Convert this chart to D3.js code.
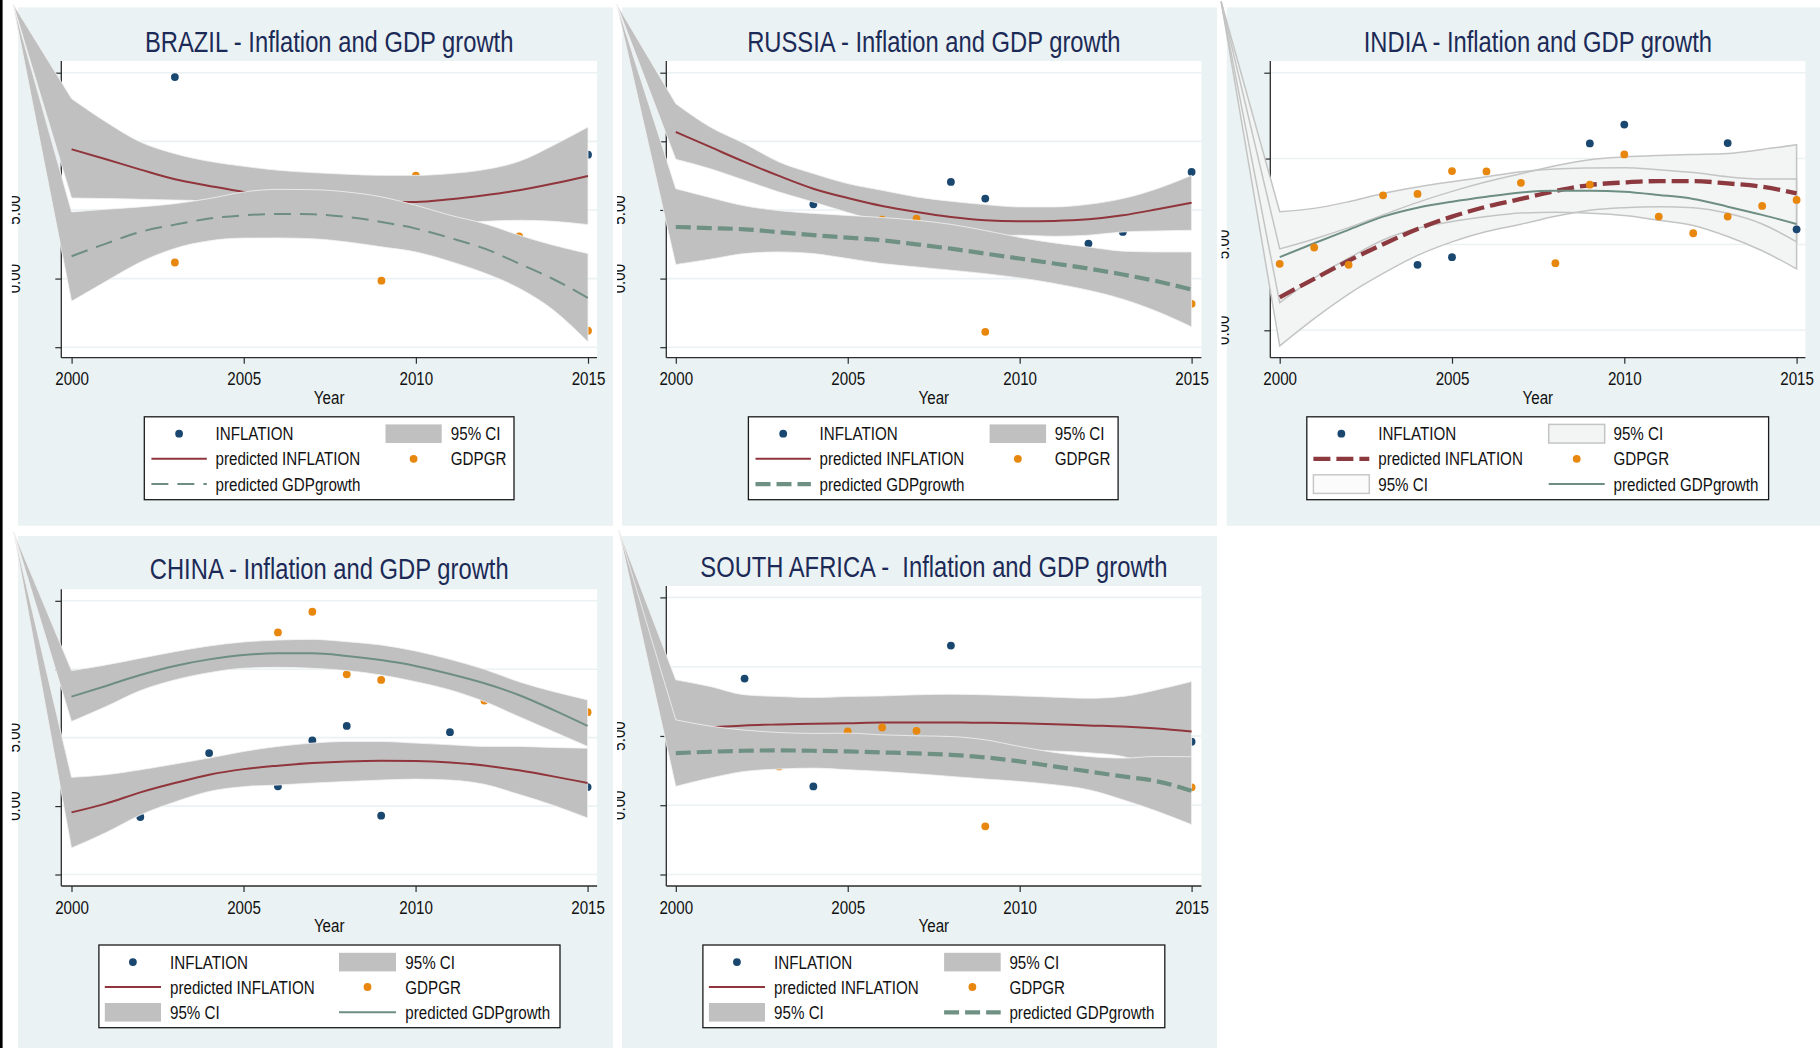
<!DOCTYPE html>
<html><head><meta charset="utf-8">
<script src="https://cdn.jsdelivr.net/npm/d3@7"></script>
<style>
html,body{margin:0;padding:0;background:#fff;}
svg{display:block;}
text{font-family:"Liberation Sans",Arial,Helvetica,sans-serif;}
</style></head><body>
<svg id="chart" width="1820" height="1048"></svg>
<script>
// ---------------- DATA ----------------
const years = [2000,2001,2002,2003,2004,2005,2006,2007,2008,2009,2010,2011,2012,2013,2014,2015];
const xTickValues = [2000,2005,2010,2015];
const yTicks5 = [15,10,5,0,-5];
const yTicks4 = [15,10,5,0];
const yLabelValues = [5,0];
const yLabelText = ["5.00","0.00"];

// BRAZIL
const brInfPts = [[2003,14.68],[2015,9.03]];
const brGdpPts = [[2003,1.17],[2004,5.95],[2009,-0.15],[2010,7.5],[2013,3.08],[2015,-3.8]];
const brInfFit = [9.42,8.69,7.94,7.23,6.75,6.31,6.0,5.78,5.63,5.57,5.58,5.78,6.07,6.43,6.92,7.48];
const brInfHi  = [13.11,11.41,9.95,9.10,8.54,8.18,7.89,7.72,7.60,7.52,7.52,7.65,7.94,8.54,9.71,11.04];
const brInfLo  = [5.87,5.83,5.78,5.72,5.65,5.2,4.6,4.2,3.9,3.8,3.8,4.0,4.17,4.25,4.17,3.93];
const brGdpFit = [1.63,2.55,3.40,3.93,4.37,4.61,4.71,4.68,4.49,4.13,3.64,2.96,2.18,1.09,-0.05,-1.41];
const brGdpHi  = [4.85,5.05,5.22,5.46,5.83,6.31,6.5,6.48,6.31,5.95,5.34,4.61,4.0,3.16,2.43,1.82];
const brGdpLo  = [-1.65,-0.2,1.2,2.2,2.75,2.95,2.96,2.9,2.67,2.31,1.94,1.25,0.4,-0.7,-2.3,-4.61];
const brApex   = [1998.3,20.0];

// RUSSIA
const ruInfPts = [[2004,5.41],[2008,7.04],[2009,5.83],[2012,2.55],[2013,3.40],[2015,7.77]];
const ruGdpPts = [[2006,4.30],[2007,4.37],[2009,-3.88],[2015,-1.84]];
const ruInfFit = [10.68,9.59,8.50,7.48,6.55,5.87,5.29,4.85,4.49,4.25,4.17,4.20,4.32,4.61,5.05,5.53];
const ruInfHi  = [12.74,11.04,9.83,8.50,7.65,6.92,6.43,5.95,5.63,5.39,5.22,5.22,5.41,5.83,6.55,7.52];
const ruInfLo  = [8.69,8.01,7.16,6.31,5.58,4.82,4.15,3.75,3.35,3.11,3.16,3.08,3.16,3.40,3.47,3.52];
const ruGdpFit = [3.76,3.68,3.59,3.38,3.16,2.98,2.79,2.49,2.18,1.82,1.46,1.1,0.73,0.3,-0.2,-0.8];
const ruGdpHi  = [6.55,5.9,5.3,4.95,4.75,4.6,4.45,4.25,3.95,3.5,3.0,2.6,2.3,2.0,1.94,1.94];
const ruGdpLo  = [1.02,1.41,1.82,1.94,1.82,1.46,1.09,0.85,0.61,0.36,0.05,-0.35,-0.85,-1.5,-2.4,-3.52];
const ruApex   = [1998.28,20.0];

// INDIA
const inInfPts = [[2004,3.81],[2005,4.26],[2009,10.88],[2010,11.98],[2013,10.90],[2015,5.88]];
const inGdpPts = [[2000,3.87],[2001,4.82],[2002,3.81],[2003,7.86],[2004,7.94],[2005,9.27],[2006,9.25],[2007,8.59],[2008,3.91],[2009,8.48],[2010,10.24],[2011,6.62],[2012,5.65],[2013,6.62],[2014,7.24],[2015,7.59]];
const inInfFit = [1.92,3.00,4.05,5.01,5.90,6.62,7.20,7.65,8.11,8.46,8.61,8.69,8.69,8.55,8.36,7.97];
const inInfHi  = [4.74,5.32,5.98,6.72,7.45,8.09,8.65,9.12,9.58,9.93,10.09,10.18,10.24,10.30,10.53,10.80];
const inInfLo  = [-0.91,0.68,2.11,3.31,4.36,5.15,5.75,6.18,6.64,6.99,7.14,7.20,7.14,6.81,6.19,5.15];
const inGdpFit = [4.26,5.07,5.85,6.62,7.14,7.49,7.78,8.03,8.13,8.13,8.07,7.88,7.65,7.20,6.72,6.19];
const inGdpHi  = [6.91,7.10,7.49,7.97,8.34,8.65,8.94,9.23,9.39,9.45,9.47,9.35,9.19,8.94,8.81,8.81];
const inGdpLo  = [1.61,3.04,4.20,5.26,5.94,6.33,6.62,6.83,6.87,6.81,6.68,6.41,6.10,5.46,4.63,3.58];
const inApex   = [1998.3,19.15];

// CHINA
const cnInfPts = [[2002,-0.80],[2004,3.87],[2006,1.44],[2007,4.79],[2008,5.86],[2009,-0.70],[2011,5.40],[2015,1.39]];
const cnGdpPts = [[2006,12.69],[2007,14.2],[2008,9.63],[2009,9.22],[2012,7.71],[2015,6.86]];
const cnInfFit = [-0.46,0.18,1.0,1.68,2.29,2.70,2.95,3.14,3.26,3.31,3.29,3.19,2.97,2.61,2.17,1.68];
const cnInfHi  = [2.10,2.29,2.65,3.07,3.51,3.99,4.36,4.60,4.72,4.72,4.60,4.48,4.36,4.36,4.28,4.23];
const cnInfLo  = [-3.06,-1.94,-0.65,0.30,1.07,1.42,1.54,1.68,1.80,1.90,1.97,1.90,1.59,0.86,0.06,-0.87];
const cnGdpFit = [8.0,8.78,9.58,10.24,10.72,11.04,11.16,11.16,10.97,10.67,10.24,9.65,8.97,8.12,7.03,5.86];
const cnGdpHi  = [9.90,10.31,10.80,11.28,11.70,11.99,12.13,12.18,12.01,11.77,11.33,10.72,9.99,9.09,8.37,7.76];
const cnGdpLo  = [6.18,7.27,8.44,9.22,9.75,10.07,10.14,10.07,9.90,9.58,9.09,8.49,7.64,6.54,5.45,4.36];
const cnApex   = [1998.32,20.03];

// SOUTH AFRICA
const saInfPts = [[2002,9.14],[2004,1.36],[2008,11.52],[2015,4.58]];
const saGdpPts = [[2003,2.8],[2005,5.32],[2006,5.61],[2007,5.37],[2009,-1.52],[2015,1.29]];
const saInfFit = [5.49,5.61,5.76,5.83,5.88,5.92,5.97,5.97,5.97,5.95,5.92,5.85,5.76,5.68,5.54,5.32];
const saInfHi  = [9.05,8.57,7.97,7.85,7.77,7.85,7.89,7.97,8.01,7.97,7.89,7.80,7.72,7.85,8.33,8.93];
const saInfLo  = [1.94,2.66,3.55,3.81,3.98,4.00,4.05,3.98,3.93,3.93,3.96,3.91,3.79,3.52,2.75,1.72];
const saGdpFit = [3.76,3.86,3.93,3.96,3.93,3.88,3.81,3.74,3.64,3.45,3.16,2.80,2.44,2.08,1.72,1.05];
const saGdpHi  = [6.16,5.71,5.42,5.25,5.18,5.20,5.08,5.01,4.96,4.72,4.24,3.81,3.52,3.40,3.52,3.50];
const saGdpLo  = [1.36,1.96,2.44,2.61,2.68,2.56,2.44,2.27,2.08,1.89,1.72,1.48,1.12,0.40,-0.44,-1.40];
const saApex   = [1998.34,19.86];

// ---------------- STYLES ----------------
const C = {navy:"#1a476f", orange:"#e8870e", maroon:"#90353b", teal:"#6e8e84",
           bg:"#eaf2f3", grid:"#eaf2f3", title:"#1c2a57", axis:"#2b2b2b"};
const ST = {
  infSolid:{stroke:C.maroon,width:2,dash:null},
  infThickDash:{stroke:"#8c3a3f",width:4.3,dash:"17 6"},
  gdpThinDash:{stroke:C.teal,width:2,dash:"17 9"},
  gdpThickDash:{stroke:"#6f9184",width:4.2,dash:"15 6"},
  gdpSolid:{stroke:C.teal,width:2,dash:null},
  bandGray:{fill:"#c0c0c0",stroke:"#f2f2f2",width:0.8},
  bandLight:{fill:"#f3f5f5",stroke:"#c4c4c4",width:1.5},
  bandWhite:{fill:"#fbfbfb",stroke:"#c8c8c8",width:1.5}
};
const NARROW = 0.82;   // Arial Narrow ≈ 82% of Arial width

// ---------------- PANELS ----------------
const panels = [
 {title:"BRAZIL - Inflation and GDP growth", bg:[18,7.4,613,525.7], plot:[61.3,60.9,597,357.7],
  xr:[71.6,588], ydom:[15,-5], yr:[72.7,347.2], yticks:yTicks5, titleY:52.4, clipX:11.8,
  infPts:brInfPts, gdpPts:brGdpPts, infFit:brInfFit, infHi:brInfHi, infLo:brInfLo,
  gdpFit:brGdpFit, gdpHi:brGdpHi, gdpLo:brGdpLo, apex:brApex,
  infLine:ST.infSolid, gdpLine:ST.gdpThinDash, band:ST.bandGray,
  order:["infPts","gdpPts","infBand","infLine","gdpBand","gdpLine"],
  legend:{box:[144.3,416.8,514,499.7], keys:[[151.4,206.8],[385.5,441.7]], texts:[215.5,450.8], rows:[433.7,458.8,484.1],
   items:[{c:0,r:0,t:"marker",s:C.navy,l:"INFLATION"},{c:1,r:0,t:"rect",s:ST.bandGray,l:"95% CI"},
          {c:0,r:1,t:"line",s:ST.infSolid,l:"predicted INFLATION"},{c:1,r:1,t:"marker",s:C.orange,l:"GDPGR"},
          {c:0,r:2,t:"line",s:ST.gdpThinDash,l:"predicted GDPgrowth"}]}},
 {title:"RUSSIA - Inflation and GDP growth", bg:[622,7.4,1217,525.7], plot:[666.3,60.9,1201.4,357.7],
  xr:[675.8,1191.6], ydom:[15,-5], yr:[72.7,347.2], yticks:yTicks5, titleY:52.4, clipX:617,
  infPts:ruInfPts, gdpPts:ruGdpPts, infFit:ruInfFit, infHi:ruInfHi, infLo:ruInfLo,
  gdpFit:ruGdpFit, gdpHi:ruGdpHi, gdpLo:ruGdpLo, apex:ruApex,
  infLine:ST.infSolid, gdpLine:ST.gdpThickDash, band:ST.bandGray,
  order:["infPts","infBand","infLine","gdpPts","gdpBand","gdpLine"],
  legend:{box:[748.4,416.8,1118.1,499.7], keys:[[755.5,810.9],[989.6,1046.1]], texts:[819.6,1054.8], rows:[433.7,458.8,484.1],
   items:[{c:0,r:0,t:"marker",s:C.navy,l:"INFLATION"},{c:1,r:0,t:"rect",s:ST.bandGray,l:"95% CI"},
          {c:0,r:1,t:"line",s:ST.infSolid,l:"predicted INFLATION"},{c:1,r:1,t:"marker",s:C.orange,l:"GDPGR"},
          {c:0,r:2,t:"line",s:ST.gdpThickDash,l:"predicted GDPgrowth"}]}},
 {title:"INDIA - Inflation and GDP growth", bg:[1226.7,7.4,1820,525.7], plot:[1270.3,61,1805.4,357.7],
  xr:[1279.7,1796.6], ydom:[15,0], yr:[72.7,330.3], yticks:yTicks4, titleY:52.4, clipX:1221.5,
  infPts:inInfPts, gdpPts:inGdpPts, infFit:inInfFit, infHi:inInfHi, infLo:inInfLo,
  gdpFit:inGdpFit, gdpHi:inGdpHi, gdpLo:inGdpLo, apex:inApex,
  infLine:ST.infThickDash, gdpLine:ST.gdpSolid, band:ST.bandLight,
  order:["infBandFill","gdpBandFill","infBandEdge","gdpBandEdge","infLine","gdpLine","infPts","gdpPts"],
  legend:{box:[1306.8,416.8,1768.6,499.7], keys:[[1313.4,1369.3],[1548.7,1604.7]], texts:[1378.2,1613.5], rows:[433.7,458.8,484.1],
   items:[{c:0,r:0,t:"marker",s:C.navy,l:"INFLATION"},{c:1,r:0,t:"rect",s:ST.bandLight,l:"95% CI"},
          {c:0,r:1,t:"line",s:ST.infThickDash,l:"predicted INFLATION"},{c:1,r:1,t:"marker",s:C.orange,l:"GDPGR"},
          {c:0,r:2,t:"rect",s:ST.bandWhite,l:"95% CI"},{c:1,r:2,t:"line",s:ST.gdpSolid,l:"predicted GDPgrowth"}]}},
 {title:"CHINA - Inflation and GDP growth", bg:[18,536,613,1048], plot:[61.3,589.3,597.1,886],
  xr:[71.5,587.6], ydom:[15,-5], yr:[600.8,874.5], yticks:yTicks5, titleY:579, clipX:11.8,
  infPts:cnInfPts, gdpPts:cnGdpPts, infFit:cnInfFit, infHi:cnInfHi, infLo:cnInfLo,
  gdpFit:cnGdpFit, gdpHi:cnGdpHi, gdpLo:cnGdpLo, apex:cnApex,
  infLine:ST.infSolid, gdpLine:ST.gdpSolid, band:ST.bandGray,
  order:["infPts","infBand","infLine","gdpPts","gdpBand","gdpLine"],
  legend:{box:[98.9,945,560,1027.7], keys:[[104.8,161],[339,396]], texts:[170,405.3], rows:[962.1,987,1012.3],
   items:[{c:0,r:0,t:"marker",s:C.navy,l:"INFLATION"},{c:1,r:0,t:"rect",s:ST.bandGray,l:"95% CI"},
          {c:0,r:1,t:"line",s:ST.infSolid,l:"predicted INFLATION"},{c:1,r:1,t:"marker",s:C.orange,l:"GDPGR"},
          {c:0,r:2,t:"rect",s:ST.bandGray,l:"95% CI"},{c:1,r:2,t:"line",s:ST.gdpSolid,l:"predicted GDPgrowth"}]}},
 {title:"SOUTH AFRICA -  Inflation and GDP growth", bg:[622,536,1217,1048], plot:[666.3,586,1201.4,886],
  xr:[675.8,1191.6], ydom:[15,-5], yr:[597.4,874.5], yticks:yTicks5, titleY:577, clipX:617,
  infPts:saInfPts, gdpPts:saGdpPts, infFit:saInfFit, infHi:saInfHi, infLo:saInfLo,
  gdpFit:saGdpFit, gdpHi:saGdpHi, gdpLo:saGdpLo, apex:saApex,
  infLine:ST.infSolid, gdpLine:ST.gdpThickDash, band:ST.bandGray,
  order:["infPts","infBand","infLine","gdpPts","gdpBand","gdpLine"],
  legend:{box:[702.9,945,1164.8,1027.7], keys:[[708.9,765],[944.1,1000.7]], texts:[774.1,1009.4], rows:[962.1,987,1012.3],
   items:[{c:0,r:0,t:"marker",s:C.navy,l:"INFLATION"},{c:1,r:0,t:"rect",s:ST.bandGray,l:"95% CI"},
          {c:0,r:1,t:"line",s:ST.infSolid,l:"predicted INFLATION"},{c:1,r:1,t:"marker",s:C.orange,l:"GDPGR"},
          {c:0,r:2,t:"rect",s:ST.bandGray,l:"95% CI"},{c:1,r:2,t:"line",s:ST.gdpThickDash,l:"predicted GDPgrowth"}]}}
];

// ---------------- DRAW ----------------
const svg = d3.select("#chart");
svg.append("rect").attr("width",1820).attr("height",1048).attr("fill","#fff");
const defs = svg.append("defs");
const FS = 18.5, R = 3.9;

function styleLine(sel, s){
  sel.attr("fill","none").attr("stroke",s.stroke).attr("stroke-width",s.width);
  if(s.dash) sel.attr("stroke-dasharray",s.dash);
  return sel;
}
// narrow text helper (horizontally condensed Arial-metric font)
function ntext(parent, x, y, size, str, anchor, color, extra){
  return parent.append("text")
    .attr("transform",`translate(${x},${y})${extra||""} scale(${NARROW},1)`)
    .attr("text-anchor",anchor||"start").attr("font-size",size).attr("fill",color||"#111")
    .style("white-space","pre").text(str);
}

panels.forEach((p,pi)=>{
  const g = svg.append("g");
  const [bx1,by1,bx2,by2] = p.bg, [px1,py1,px2,py2] = p.plot;
  g.append("rect").attr("x",bx1).attr("y",by1).attr("width",bx2-bx1).attr("height",by2-by1).attr("fill",C.bg);
  g.append("rect").attr("x",px1).attr("y",py1).attr("width",px2-px1).attr("height",py2-py1).attr("fill","#fff");

  const x = d3.scaleLinear().domain([2000,2015]).range(p.xr);
  const y = d3.scaleLinear().domain(p.ydom).range(p.yr);

  // title
  ntext(g,(px1+px2)/2,p.titleY,29,p.title,"middle",C.title);

  // gridlines
  g.append("g").selectAll("line").data(p.yticks).join("line")
   .attr("x1",px1).attr("x2",px2).attr("y1",d=>y(d)).attr("y2",d=>y(d))
   .attr("stroke",C.grid).attr("stroke-width",1.6);

  // y axis ticks
  const ya = g.append("g").attr("transform",`translate(${px1},0)`)
   .call(d3.axisLeft(y).tickValues(p.yticks).tickSize(6).tickSizeOuter(0).tickFormat(""));
  ya.select(".domain").remove();
  ya.selectAll("line").attr("stroke",C.axis).attr("stroke-width",1.2);

  // rotated y labels (clipped at the cell edge)
  const cid = "clipY"+pi;
  defs.append("clipPath").attr("id",cid).append("rect")
   .attr("x",p.clipX).attr("y",py1-20).attr("width",px1-p.clipX).attr("height",py2-py1+40);
  const yl = g.append("g").attr("clip-path",`url(#${cid})`);
  yLabelValues.forEach((v,i)=>ntext(yl,px1-41,y(v),FS,yLabelText[i],"middle","#111"," rotate(-90)"));

  // x axis
  const xa = g.append("g").attr("transform",`translate(0,${py2})`)
   .call(d3.axisBottom(x).tickValues(xTickValues).tickSize(6).tickSizeOuter(0).tickFormat(d3.format("d")));
  xa.select(".domain").remove();
  xa.selectAll("line").attr("stroke",C.axis).attr("stroke-width",1.2);
  xa.selectAll("text").attr("y",0).attr("dy",null).attr("transform",`translate(0,27.7) scale(${NARROW},1)`)
   .attr("font-size",FS).attr("fill","#111").attr("font-family",null)
   .style("font-family",'"Liberation Sans",Arial,sans-serif');
  ntext(g,(px1+px2)/2,py2+46.3,FS,"Year","middle","#111");

  // axis lines
  g.append("line").attr("x1",px1).attr("x2",px1).attr("y1",py1).attr("y2",py2).attr("stroke",C.axis).attr("stroke-width",1.3);
  g.append("line").attr("x1",px1).attr("x2",px2).attr("y1",py2).attr("y2",py2).attr("stroke",C.axis).attr("stroke-width",1.3);

  // data layers
  const bandPath = (lo,hi)=>{
    const area = d3.area().x(d=>x(d)).y0((d,i)=>y(lo[i])).y1((d,i)=>y(hi[i])).curve(d3.curveMonotoneX);
    return `M${x(p.apex[0])},${y(p.apex[1])}L` + area(years).slice(1);
  };
  const linePath = (vals)=> d3.line().x(d=>x(d)).y((d,i)=>y(vals[i])).curve(d3.curveMonotoneX)(years);
  const dg = g.append("g");
  const layers = {
    infPts:()=>dg.append("g").selectAll("circle").data(p.infPts).join("circle")
       .attr("cx",d=>x(d[0])).attr("cy",d=>y(d[1])).attr("r",R).attr("fill",C.navy),
    gdpPts:()=>dg.append("g").selectAll("circle").data(p.gdpPts).join("circle")
       .attr("cx",d=>x(d[0])).attr("cy",d=>y(d[1])).attr("r",R).attr("fill",C.orange),
    infBand:()=>dg.append("path").attr("d",bandPath(p.infLo,p.infHi)).attr("fill",p.band.fill).attr("stroke",p.band.stroke).attr("stroke-width",p.band.width),
    gdpBand:()=>dg.append("path").attr("d",bandPath(p.gdpLo,p.gdpHi)).attr("fill",p.band.fill).attr("stroke",p.band.stroke).attr("stroke-width",p.band.width),
    infBandFill:()=>dg.append("path").attr("d",bandPath(p.infLo,p.infHi)).attr("fill",p.band.fill),
    gdpBandFill:()=>dg.append("path").attr("d",bandPath(p.gdpLo,p.gdpHi)).attr("fill",p.band.fill),
    infBandEdge:()=>dg.append("path").attr("d",bandPath(p.infLo,p.infHi)).attr("fill","none").attr("stroke",p.band.stroke).attr("stroke-width",p.band.width),
    gdpBandEdge:()=>dg.append("path").attr("d",bandPath(p.gdpLo,p.gdpHi)).attr("fill","none").attr("stroke",p.band.stroke).attr("stroke-width",p.band.width),
    infLine:()=>styleLine(dg.append("path").attr("d",linePath(p.infFit)),p.infLine),
    gdpLine:()=>styleLine(dg.append("path").attr("d",linePath(p.gdpFit)),p.gdpLine)
  };
  p.order.forEach(k=>layers[k]());

  // legend
  const L = p.legend, lg = g.append("g");
  lg.append("rect").attr("x",L.box[0]).attr("y",L.box[1]).attr("width",L.box[2]-L.box[0]).attr("height",L.box[3]-L.box[1])
    .attr("fill","#fff").attr("stroke","#1a1a1a").attr("stroke-width",1.3);
  L.items.forEach(it=>{
    const [k1,k2] = L.keys[it.c], ky = L.rows[it.r];
    if(it.t==="marker") lg.append("circle").attr("cx",(k1+k2)/2).attr("cy",ky).attr("r",R).attr("fill",it.s);
    if(it.t==="line") styleLine(lg.append("line").attr("x1",k1).attr("x2",k2).attr("y1",ky).attr("y2",ky),it.s);
    if(it.t==="rect") lg.append("rect").attr("x",k1).attr("y",ky-9.3).attr("width",k2-k1).attr("height",18.6)
        .attr("fill",it.s.fill).attr("stroke",it.s.fill==="#c0c0c0"?"none":it.s.stroke).attr("stroke-width",1.5);
    ntext(lg,L.texts[it.c],ky+6.6,FS,it.l,"start","#111");
  });
});

// left black frame edge
svg.append("rect").attr("x",0).attr("y",0).attr("width",2.6).attr("height",1048).attr("fill","#000");
</script>
</body></html>
